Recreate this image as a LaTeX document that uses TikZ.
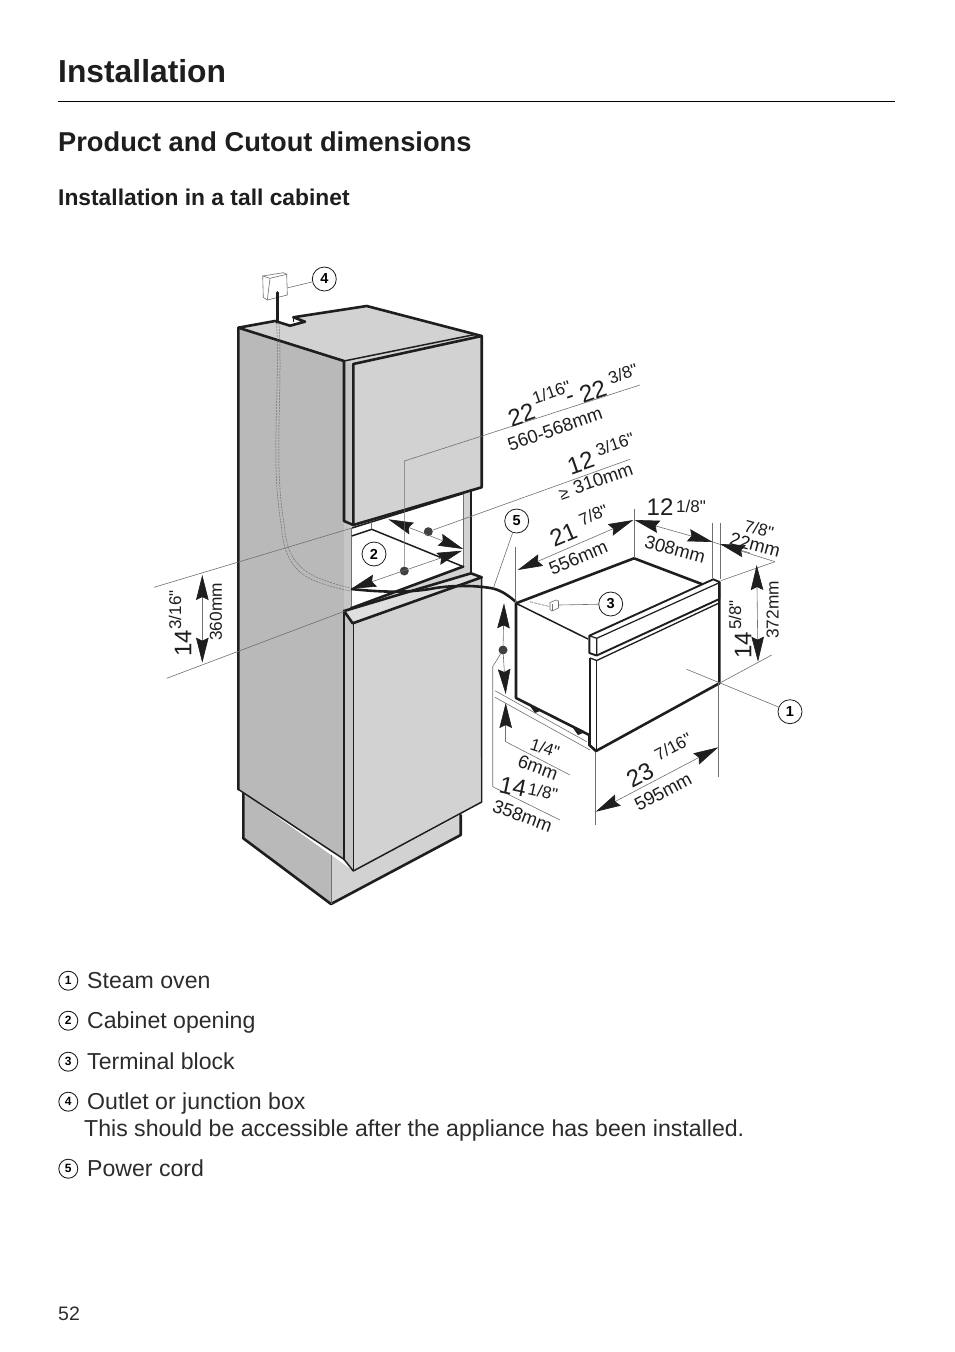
\documentclass[tikz,border=0pt]{standalone}
\usepackage{fontspec}
\setmainfont{Liberation Sans}[Ligatures=TeXOff]
\usetikzlibrary{arrows.meta}
\definecolor{sidegray}{HTML}{B9B9B9}
\definecolor{frontgray}{HTML}{D2D2D2}
\definecolor{stripgray}{HTML}{C6C6C6}
\definecolor{inkc}{HTML}{1E1E1E}
\definecolor{bodyc}{HTML}{2C2C2C}
\definecolor{dimgray}{HTML}{707070}
\tikzset{
 heavy/.style={draw=inkc,line width=2.6pt,line join=round,line cap=round},
 medium/.style={draw=inkc,line width=1.5pt,line join=round},
 thinl/.style={draw=dimgray,line width=0.6pt},
 kite/.tip={Stealth[length=25pt,width=12.5pt,inset=3pt,inkc]},
 tipped/.style={draw=dimgray,line width=0.6pt,{kite}-{kite}},
 onetip/.style={draw=dimgray,line width=0.6pt,-{kite}},
 callout/.style={draw=inkc,circle,line width=0.8pt,minimum size=24pt,inner sep=0pt,fill=white,font=\fontsize{14.5}{14}\selectfont\bfseries},
 legendmark/.style={draw=inkc,circle,line width=0.9pt,minimum size=19pt,inner sep=0pt,font=\fontsize{12}{12}\selectfont\bfseries},
 legendtext/.style={anchor=base west,inner sep=0pt,text=bodyc,font=\fontsize{23.1}{27}\selectfont},
 big/.style={inner sep=0pt,text=inkc,font=\fontsize{24}{25}\selectfont},
 frac/.style={inner sep=0pt,text=inkc,font=\fontsize{17}{18}\selectfont},
 mm/.style={inner sep=0pt,text=inkc,font=\fontsize{18.5}{18}\selectfont},
 mmv/.style={inner sep=0pt,text=inkc,font=\fontsize{17.3}{18}\selectfont},
 dotm/.style={circle,fill=inkc!85,inner sep=0pt,minimum size=9pt},
}
\begin{document}
\begin{tikzpicture}[x=1pt,y=-1pt]
\useasboundingbox (0,0) rectangle (954,1352);
\fill[white] (0,0) rectangle (954,1352);
% headings
\node[anchor=base west,inner sep=0pt,font=\fontsize{31.8}{32}\selectfont\bfseries,text=inkc] (h1) at (58,82) {Installation};
\draw[black,line width=1pt] (58,101.5) -- (895,101.5);
\node[anchor=base west,inner sep=0pt,font=\fontsize{27.25}{27}\selectfont\bfseries,text=inkc] (h2) at (58,151) {Product and Cutout dimensions};
\node[anchor=base west,inner sep=0pt,font=\fontsize{22.8}{24}\selectfont\bfseries,text=inkc] (h3) at (58,205) {Installation in a tall cabinet};
% plinth
\fill[sidegray] (243.3,793) -- (243.3,838.3) -- (331,904) -- (331,855) -- cycle;
\fill[frontgray] (331,855) -- (331,904) -- (460.7,835) -- (460.7,815) -- (353.3,871) -- cycle;
\draw[heavy] (243.3,793) -- (243.3,838.3) -- (331,904) -- (460.7,835) -- (460.7,815);
\draw[thinl] (331,855) -- (331,904);
% cabinet faces
\fill[sidegray] (238.3,327.7) -- (344,361) -- (344,859.3) -- (238.3,789.3) -- cycle;
\fill[stripgray] (344,361) -- (353.3,364) -- (353.3,871) -- (344,859.3) -- cycle;
\fill[frontgray] (238.3,327.7) -- (275,321) -- (290,325.7) -- (305,321.7) -- (293.3,317.3) -- (366.7,306) -- (481.7,336) -- (353.3,364) -- (344,361) -- cycle;
\fill[frontgray] (353.3,364) -- (481.7,336) -- (481.7,487.3) -- (353.3,525) -- cycle;
\fill[frontgray] (353.3,624) -- (481.7,578) -- (480.5,803.3) -- (353.3,871) -- cycle;
% opening
\fill[frontgray] (345,522) -- (471,488) -- (471,573.3) -- (345,611) -- cycle;
\fill[stripgray] (345,522) -- (351,528) -- (351,608) -- (345,611) -- cycle;
\fill[white] (351,528.3) -- (463.3,494) -- (463.3,566.5) -- (351,608.3) -- cycle;
% ledge
\fill[frontgray!70!white] (345,611) -- (352.7,623.3) -- (481.7,577.3) -- (471,573.3) -- cycle;
% cabinet outlines
\draw[heavy] (238.3,789.3) -- (238.3,327.7) -- (275,321) -- (290,325.7) -- (305,321.7) -- (293.3,317.3) -- (366.7,306) -- (481.7,336) -- (481.7,487.3) -- (353.3,525) -- (353.3,364);
\draw[heavy] (238.3,327.7) -- (344,361) -- (344,521) -- (353.3,525);
\draw[medium] (293.3,317.3) -- (293.3,322);
\draw[medium] (344,361) -- (475,334.5);
\draw[heavy] (353.3,364) -- (481.7,336);
\draw[medium] (352,528) -- (464,493.3);
\draw[heavy] (471,490) -- (471,573.3);
\draw[thinl,line width=0.9pt] (463.3,494) -- (463.3,567);
\draw[thinl,line width=0.9pt] (351,528.3) -- (351,608.3);
\draw[medium] (351.7,536) -- (371.7,529.3) -- (461.7,566);
\draw[thinl] (371.7,529.3) -- (371.7,522);
\draw[heavy] (351,608.3) -- (463.3,566.5);
\draw[heavy] (344,611) -- (471,573.3) -- (481.7,577.3) -- (352.7,623.3) -- (344,611);
\draw[heavy] (344,611) -- (344,859.3);
\draw[medium] (353.3,624) -- (353.3,871);
\draw[medium] (481.7,577) -- (481.7,802) -- (353.3,871) -- (344,859.3) -- (238.3,789.3);
\draw[medium] (238.3,327.7) -- (238.3,789.3);
% dashed wire in cabinet
\draw[dimgray,line width=0.5pt,dash pattern=on 2pt off 1pt] (276.7,323) .. controls (280,400) and (270,460) .. (281.5,527) .. controls (285,575) and (310,582) .. (350,591);
\draw[dimgray,line width=0.5pt,dash pattern=on 2pt off 1pt] (279,323) .. controls (283,400) and (273,460) .. (284.5,527) .. controls (288,571) and (313,578) .. (350,588);
% junction box
\draw[dimgray,line width=0.6pt,fill=white] (262.7,276) -- (283.3,272.7) -- (286.7,274.3) -- (287.3,295) -- (267.3,300) -- (263.3,297.3) -- cycle;
\draw[dimgray,line width=0.6pt] (262.7,276) -- (270,278.3) -- (286.7,274.3);
\draw[dimgray,line width=0.6pt] (270,278.3) -- (267.3,300);
\draw[heavy] (277.7,292.5) -- (277.7,322);
% dimensions left of oven
\coordinate (ulExt) at (154,587.3);
\coordinate (ulEnd) at (351,528.3);
\coordinate (llExt) at (166.7,678.3);
\coordinate (llEnd) at (345,611);
\draw[thinl] (ulExt) -- (ulEnd);
\draw[thinl] (llExt) -- (llEnd);
\coordinate (d360a) at (202.3,575);
\coordinate (d360b) at (202.3,662.7);
\draw[tipped] (d360a) -- (d360b);
% opening dimensions
\node[dotm] (dotA) at (428.3,531.7) {};
\node[dotm] (dotB) at (404.3,571) {};
\coordinate (widthTipL) at (351.2,588.8);
\coordinate (widthTipR) at (462,550.7);
\coordinate (depthTipL) at (388.3,519.3);
\coordinate (depthTipR) at (463.3,549);
\draw[tipped] (widthTipL) -- (widthTipR);
\draw[tipped] (depthTipL) -- (depthTipR);
\coordinate (elbow) at (404.3,461);
\coordinate (wEnd) at (640,385);
\coordinate (dEnd) at (630,459.3);
\draw[thinl] (dotB) -- (elbow) -- (wEnd);
\draw[thinl] (dotA) -- (dEnd);
% oven
\fill[white] (516,603.3) -- (634,558.3) -- (713,579) -- (720.7,582.7) -- (719.3,683.3) -- (596,751) -- (589,745) -- (589,735) -- (516,698) -- cycle;
\draw[heavy] (516,603.3) -- (634,558.3) -- (701.7,584);
\draw[medium] (516,603.3) -- (588,639);
\draw[heavy] (516,603.3) -- (516,698) -- (589.3,735) -- (589.3,745) -- (596,751);
\fill[inkc] (530,706) -- (540,711) -- (535,713) -- cycle;
\fill[inkc] (573,728) -- (583,733) -- (578,735) -- cycle;
\draw[heavy,line width=1.9pt] (589.3,635.7) -- (713.3,579.3) -- (719.3,582) -- (719.3,599) -- (596.7,655.5) -- (589.3,653) -- cycle;
\draw[medium,line width=1.2pt] (596.7,638.3) -- (719.3,582.7);
\draw[medium,line width=1.2pt] (589.3,635.7) -- (596.7,638.3) -- (596.7,655.5);
\draw[medium,line width=1.3pt] (590,658) -- (596.7,660.5) -- (718,603.5);
\draw[medium] (590,658) -- (590,745);
\draw[medium] (596.7,660.5) -- (596.7,750);
\draw[heavy] (596,751) -- (719.3,683.3) -- (719.3,582);
% power cord
\draw[heavy,line width=2.6pt,line cap=butt] (351,589) .. controls (380,592) and (405,593) .. (430,589) .. controls (450,585) and (475,585) .. (493,588.5) .. controls (503,591) and (510,597) .. (516,602);
% terminal block
\draw[dimgray,line width=0.6pt,dash pattern=on 3pt off 1pt] (530,601.7) -- (550,606.7);
\draw[dimgray,line width=0.6pt,fill=white] (550,602.5) -- (556,600) -- (558.5,601) -- (558.5,608) -- (552,611) -- (550,609.5) -- cycle;
\draw[dimgray,line width=0.5pt] (552,604) -- (552,611);
\coordinate (blockPt) at (558.7,605);
% oven extension lines
\coordinate (e1a) at (515,546.7);
\coordinate (e1b) at (515,603);
\coordinate (e2a) at (634.3,509.3);
\coordinate (e2b) at (634.3,558);
\coordinate (e3a) at (712.7,523.3);
\coordinate (e3b) at (712.7,578);
\coordinate (e4a) at (720,523.3);
\coordinate (e4b) at (720,579);
\draw[thinl] (e1a) -- (e1b);
\draw[thinl] (e2a) -- (e2b);
\draw[thinl] (e3a) -- (e3b);
\draw[thinl] (e4a) -- (e4b);
\coordinate (d556a) at (517.7,570);
\coordinate (d556b) at (633.3,520);
\draw[tipped] (d556a) -- (d556b);
\coordinate (d308a) at (634.5,520);
\coordinate (d308b) at (712.7,542);
\draw[tipped] (d308a) -- (d308b);
\coordinate (d22tip) at (720,544);
\coordinate (d22end) at (775,561.7);
\draw[thinl] (d308b) -- (d22end);
\draw[-{kite},draw=dimgray,line width=0.6pt] (750,553) -- (d22tip);
\coordinate (e5) at (720.7,580.7);
\draw[thinl] (e5) -- (d22end);
\coordinate (d372a) at (756.7,565);
\coordinate (d372b) at (758,661.7);
\draw[tipped] (d372a) -- (d372b);
\coordinate (e6a) at (771.7,655);
\coordinate (e6b) at (719.3,683.3);
\draw[thinl] (e6a) -- (e6b);
% bottom dimensions
\coordinate (e7a) at (595.7,751.7);
\coordinate (e7b) at (595.7,825);
\coordinate (e8a) at (718.3,683);
\coordinate (e8b) at (718.3,776.7);
\draw[thinl] (e7a) -- (e7b);
\draw[thinl] (e8a) -- (e8b);
\coordinate (d595a) at (595.7,811.7);
\coordinate (d595b) at (718.3,747.3);
\draw[tipped] (d595a) -- (d595b);
% left oven dimensions
\node[dotm] (dotC) at (503,650) {};
\coordinate (vTop) at (504,603.3);
\draw[onetip] (dotC) -- (vTop);
\coordinate (t1) at (505.7,694);
\coordinate (t2) at (505.7,703);
\draw[onetip] (dotC) -- (t1);
\coordinate (v1) at (505.7,741.7);
\coordinate (v2) at (570,775);
\draw[onetip] (v1) -- (t2);
\draw[thinl] (v1) -- (v2);
\coordinate (w1) at (492.7,666.7);
\coordinate (w2) at (492.7,786.7);
\coordinate (w3) at (560,820);
\draw[thinl] (dotC) -- (w1) -- (w2) -- (w3);
\coordinate (x1a) at (495,690.7);
\coordinate (x1b) at (586.7,741.7);
\coordinate (x2a) at (495,697.3);
\coordinate (x2b) at (590,750);
\draw[thinl] (x1a) -- (x1b);
\draw[thinl] (x2a) -- (x2b);
% callouts
\node[callout] (c4) at (324.3,279) {4};
\coordinate (boxPt) at (287,288);
\draw[thinl] (c4) -- (boxPt);
\node[callout] (c2) at (374,554) {2};
\node[callout] (c5) at (516.7,521) {5};
\coordinate (cordPt) at (493.3,588.3);
\draw[thinl] (c5) -- (cordPt);
\node[callout] (c3) at (610.7,604) {3};
\draw[thinl] (c3) -- (blockPt);
\node[callout] (c1) at (790,711.7) {1};
\coordinate (ovenPt) at (686.7,669.3);
\draw[thinl] (c1) -- (ovenPt);
% dimension labels
\node[big,rotate=19] (t22a) at (521.5,415) {22};
\node[frac,rotate=19] (t116) at (551.5,392) {1/16"};
\node[big,rotate=19] (tdash) at (571,400) {-};
\node[big,rotate=19] (t22b) at (593,391.7) {22};
\node[frac,rotate=19] (t38) at (623,374) {3/8"};
\node[mm,rotate=19] (t560) at (555,429) {560-568mm};
\node[big,rotate=19] (t12a) at (580.7,463) {12};
\node[frac,rotate=19] (t316a) at (615,444) {3/16"};
\node[frac,rotate=19] (tge) at (564,494) {≥};
\node[mm,rotate=19] (t310) at (603,478) {310mm};
\node[big,rotate=23] (t21) at (563.3,535) {21};
\node[frac,rotate=23] (t78a) at (593.3,515) {7/8"};
\node[mm,rotate=23] (t556) at (578.3,558) {556mm};
\node[big] (t12b) at (660,506.7) {12};
\node[frac] (t18a) at (691,506) {1/8"};
\node[mm,rotate=-15] (t308) at (675,549.3) {308mm};
\node[frac,rotate=-15] (t78b) at (759,529) {7/8"};
\node[mm,rotate=-15] (t22mm) at (755,545) {22mm};
\node[big,rotate=90] (t14a) at (743,645) {14};
\node[frac,rotate=90] (t58) at (735,615) {5/8"};
\node[mmv,rotate=90] (t372) at (772.7,610) {372mm};
\node[frac,rotate=-18] (t14in) at (545,748.3) {1/4"};
\node[mm,rotate=-20] (t6mm) at (538,767.5) {6mm};
\node[big,rotate=-12] (t14b) at (513,786.7) {14};
\node[frac,rotate=-12] (t18b) at (543,791.7) {1/8"};
\node[mm,rotate=-20] (t358) at (522.5,816) {358mm};
\node[big,rotate=28] (t23) at (640,775) {23};
\node[frac,rotate=28] (t716) at (673,746.7) {7/16"};
\node[mm,rotate=28] (t595) at (663,791.7) {595mm};
\node[big,rotate=90] (t14c) at (183,643) {14};
\node[frac,rotate=90] (t316b) at (175,610) {3/16"};
\node[mmv,rotate=90] (t360) at (216,612) {360mm};
% legend
\node[legendmark] (m1) at (68.3,980.7) {1};
\node[legendtext] (l1) at (87,988) {Steam oven};
\node[legendmark] (m2) at (68.3,1020.7) {2};
\node[legendtext] (l2) at (87,1028) {Cabinet opening};
\node[legendmark] (m3) at (68.3,1061.7) {3};
\node[legendtext] (l3) at (87,1069) {Terminal block};
\node[legendmark] (m4) at (68.3,1101.7) {4};
\node[legendtext] (l4) at (87,1109) {Outlet or junction box};
\node[legendtext] (l4b) at (84,1136) {This should be accessible after the appliance has been installed.};
\node[legendmark] (m5) at (68.3,1168.7) {5};
\node[legendtext] (l5) at (87,1176.5) {Power cord};
\node[anchor=base west,inner sep=0pt,text=bodyc,font=\fontsize{19.5}{20}\selectfont] (pg) at (58,1320) {52};
\end{tikzpicture}
\end{document}
